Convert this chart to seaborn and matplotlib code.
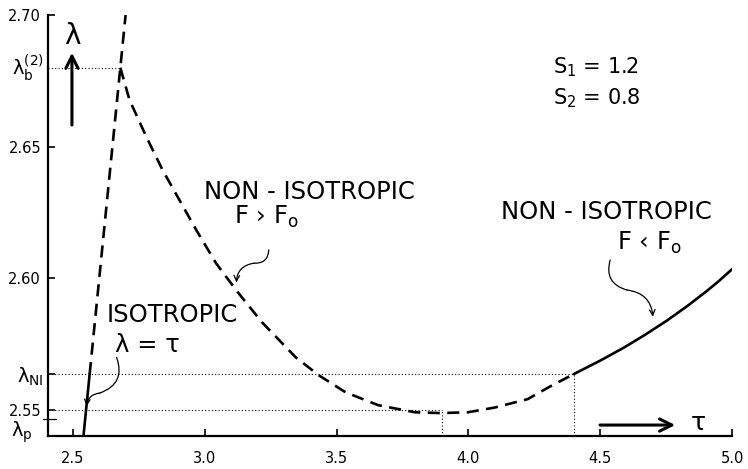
import matplotlib
matplotlib.use('Agg')
import matplotlib.pyplot as plt
import seaborn as sns
import pandas as pd
from matplotlib.transforms import blended_transform_factory

sns.set_theme(style='white')
plt.rcParams['font.family'] = ['DejaVu Sans']
plt.rcParams['mathtext.default'] = 'regular'
plt.rcParams['text.color'] = 'black'
plt.rcParams['xtick.color'] = 'black'
plt.rcParams['ytick.color'] = 'black'

# ---------------- data ----------------
# isotropic branch: lambda = tau
tau_iso_solid = [2.540, 2.5637]
tau_iso_dashed = [2.5637, 2.700]

# non-isotropic branch, F > F0 (dashed)
tau_nonF_dashed = [2.680, 2.715, 2.779, 2.840, 2.904, 2.968, 3.043, 3.119, 3.217,
                   3.345, 3.432, 3.534, 3.658, 3.798, 3.896, 3.998, 4.100, 4.225, 4.310, 4.400]
lam_nonF_dashed = [2.680, 2.6677, 2.6537, 2.6412, 2.6298, 2.6184, 2.6058, 2.5956, 2.5834,
                   2.5701, 2.5633, 2.5568, 2.5519, 2.5492, 2.5489, 2.5492, 2.5510, 2.5542,
                   2.5590, 2.5637]

# non-isotropic branch, F < F0 (solid)
tau_nonF_solid = [4.400, 4.500, 4.591, 4.670, 4.753, 4.830, 4.904, 4.950, 5.000]
lam_nonF_solid = [2.5637, 2.5688, 2.5738, 2.5786, 2.5840, 2.5895, 2.5952, 2.5990, 2.6035]

lam_b2 = 2.680      # lambda_b^(2)
lam_NI = 2.5637     # lambda_NI
lam_p = 2.5465      # lambda_p
lam_min = 2.550
tau_min = 3.90
tau_NI = 4.40

xticks = [2.5, 3.0, 3.5, 4.0, 4.5, 5.0]
xticklabels = ['2.5', '3.0', '3.5', '4.0', '4.5', '5.0']
yticks = [2.55, 2.60, 2.65, 2.70]
yticklabels = ['2.55', '2.60', '2.65', '2.70']

S1, S2 = 1.2, 0.8

# ---------------- figure ----------------
W, H = 748, 469
fig = plt.figure(figsize=(W / 100, H / 100), dpi=100)
ax = fig.add_axes([48 / W, 1 - 436 / H, 684 / W, 421 / H])
ax.set_xlim(2.4057, 5.0)
ax.set_ylim(2.5402, 2.70)

lw_curve = 1.9
dash = (4.6, 2.8)

df_iso_s = pd.DataFrame({'tau': tau_iso_solid, 'lam': tau_iso_solid})
df_iso_d = pd.DataFrame({'tau': tau_iso_dashed, 'lam': tau_iso_dashed})
df_nd = pd.DataFrame({'tau': tau_nonF_dashed, 'lam': lam_nonF_dashed})
df_ns = pd.DataFrame({'tau': tau_nonF_solid, 'lam': lam_nonF_solid})

sns.lineplot(data=df_iso_s, x='tau', y='lam', ax=ax, color='black', lw=lw_curve)
sns.lineplot(data=df_ns, x='tau', y='lam', ax=ax, color='black', lw=lw_curve)
n0 = len(ax.lines)
sns.lineplot(data=df_iso_d, x='tau', y='lam', ax=ax, color='black', lw=lw_curve)
sns.lineplot(data=df_nd, x='tau', y='lam', ax=ax, color='black', lw=lw_curve)
for ln in ax.lines[n0:]:
    ln.set_dashes(dash)

# dotted guide lines
x0 = ax.get_xlim()[0]
y0 = ax.get_ylim()[0]
dot = dict(color='black', lw=0.8, linestyles=(0, (1, 2)))
ax.hlines(lam_b2, x0, lam_b2, **dot)
ax.hlines(lam_NI, x0, tau_NI, **dot)
ax.hlines(lam_min, x0, tau_min, **dot)
ax.vlines(tau_min, y0, lam_min, **dot)
ax.vlines(tau_NI, y0, lam_NI, **dot)

# axes styling
for s in ['top', 'right']:
    ax.spines[s].set_visible(False)
for s in ['left', 'bottom']:
    ax.spines[s].set_color('black')
    ax.spines[s].set_linewidth(1.6)
ax.set_xticks(xticks)
ax.set_xticklabels(xticklabels)
ax.set_yticks(yticks + [lam_NI])
ax.set_yticklabels(yticklabels + [''])
ax.tick_params(axis='both', direction='in', length=5, width=1.2, colors='black',
               labelsize=10.5, left=True, bottom=True)
ax.tick_params(axis='x', pad=11)
ax.tick_params(axis='y', pad=5)
ax.set_xlabel('')
ax.set_ylabel('')
ax.grid(False)

# special y labels
bt = blended_transform_factory(ax.transAxes, ax.transData)
ax.annotate(r'$\lambda_b^{(2)}$', xy=(0, lam_b2), xycoords=bt, xytext=(-3, 0),
            textcoords='offset points', ha='right', va='center', fontsize=14)
ax.annotate(r'$\lambda_{NI}$', xy=(0, lam_NI), xycoords=bt, xytext=(-3, -2),
            textcoords='offset points', ha='right', va='center', fontsize=14)
ax.annotate(r'$\lambda_p$', xy=(0, lam_p), xycoords=bt, xytext=(-11, 0),
            textcoords='offset points', ha='right', va='top', fontsize=14)
ax.plot([-0.008, 0.012], [lam_p, lam_p], transform=bt, color='black', lw=0.9, clip_on=False)

# axis arrows
ax.annotate('', xy=(0.035, 0.917), xytext=(0.035, 0.732), xycoords='axes fraction',
            arrowprops=dict(arrowstyle='->', lw=2.2, color='black', mutation_scale=22))
ax.text(0.035, 0.950, 'λ', transform=ax.transAxes, ha='center', va='center', fontsize=20)
ax.annotate('', xy=(0.921, 0.026), xytext=(0.803, 0.026), xycoords='axes fraction',
            arrowprops=dict(arrowstyle='->', lw=2.2, color='black', mutation_scale=22))
ax.text(0.951, 0.030, 'τ', transform=ax.transAxes, ha='center', va='center', fontsize=18)

# parameter text
ax.text(0.738, 0.876, f'S$_1$ = {S1}', transform=ax.transAxes, ha='left', va='center', fontsize=15)
ax.text(0.738, 0.803, f'S$_2$ = {S2}', transform=ax.transAxes, ha='left', va='center', fontsize=15)

# region labels
tfs = 17.5
ax.text(2.998, 2.6328, 'NON - ISOTROPIC', ha='left', va='center', fontsize=tfs)
ax.text(3.111, 2.6233, r'F › F$_o$', ha='left', va='center', fontsize=tfs)
ax.text(4.923, 2.6252, 'NON - ISOTROPIC', ha='right', va='center', fontsize=tfs)
ax.text(4.685, 2.6134, r'F ‹ F$_o$', ha='center', va='center', fontsize=tfs)
ax.text(2.628, 2.5861, 'ISOTROPIC', ha='left', va='center', fontsize=tfs)
ax.text(2.658, 2.5747, 'λ = τ', ha='left', va='center', fontsize=tfs)

# wavy pointer arrows: two arcs bending opposite ways
seg = dict(arrowstyle='-', lw=0.9, color='black', shrinkA=0, shrinkB=0)
arr = dict(arrowstyle='->', lw=0.9, color='black', mutation_scale=10, shrinkA=0, shrinkB=0)
squiggles = [  # start, bend point, tip, rad1, rad2
    ((2.666, 2.5700), (2.602, 2.5565), (2.552, 2.5515), -0.5, 0.4),
    ((3.243, 2.6108), (3.187, 2.6058), (3.120, 2.5985), -0.5, 0.4),
    ((4.538, 2.6070), (4.602, 2.5956), (4.700, 2.5855), 0.5, -0.4),
]
for start, mid, tip, r1, r2 in squiggles:
    ax.annotate('', xy=mid, xytext=start,
                arrowprops=dict(connectionstyle=f'arc3,rad={r1}', **seg))
    ax.annotate('', xy=tip, xytext=mid,
                arrowprops=dict(connectionstyle=f'arc3,rad={r2}', **arr))

fig.savefig('out.png', dpi=100)
